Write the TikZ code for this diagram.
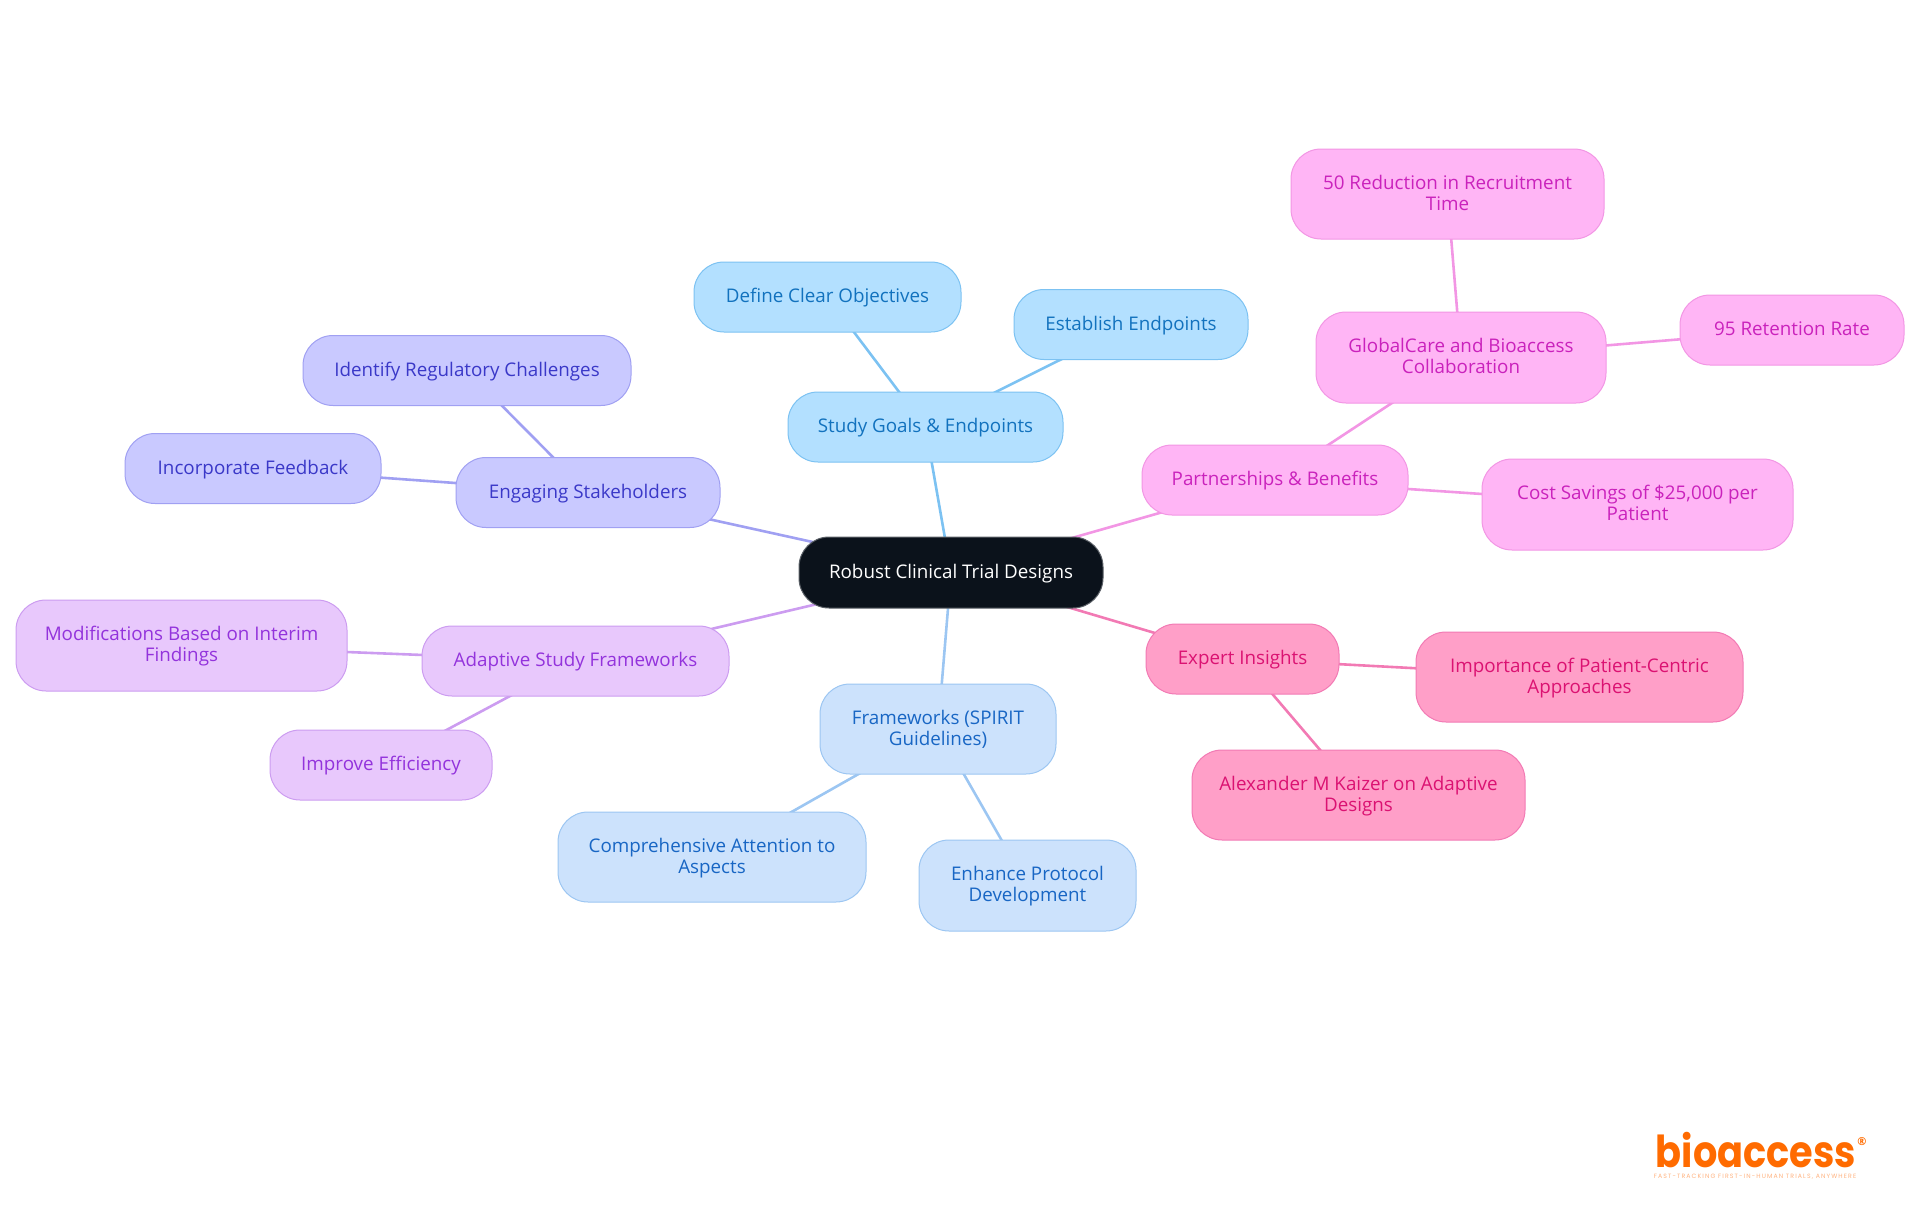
\documentclass[tikz,border=0pt]{standalone}
\usepackage{fontspec}
\setmainfont{Open Sans}
\newfontfamily\logofont{Poppins}
\usetikzlibrary{backgrounds}
\definecolor{rootF}{HTML}{0B121B}\definecolor{rootD}{HTML}{5A5F66}
\definecolor{sgF}{HTML}{B3E0FF}\definecolor{sgD}{HTML}{7CC2F2}\definecolor{sgT}{HTML}{1272BE}
\definecolor{esF}{HTML}{C9C9FF}\definecolor{esD}{HTML}{A0A0F2}\definecolor{esT}{HTML}{3A38C8}
\definecolor{asF}{HTML}{E8C8FC}\definecolor{asD}{HTML}{CC9CF0}\definecolor{asT}{HTML}{9333DC}
\definecolor{fwF}{HTML}{CCE2FC}\definecolor{fwD}{HTML}{9CC6F2}\definecolor{fwT}{HTML}{1866C4}
\definecolor{eiF}{HTML}{FF9FC8}\definecolor{eiD}{HTML}{F27AB4}\definecolor{eiT}{HTML}{DB1272}
\definecolor{pbF}{HTML}{FFB5F5}\definecolor{pbD}{HTML}{F296E4}\definecolor{pbT}{HTML}{CA22BC}
\definecolor{logoO}{HTML}{FF6B00}\definecolor{logoL}{HTML}{FFB27F}
\tikzset{
  x=1pt,y=-1pt,
  mapnode/.style={draw,line width=1pt,rounded corners=30pt,align=center,inner sep=0pt,
     font=\fontsize{18.8}{21}\selectfont},
  oneline/.style={text height=15.2pt,text depth=4pt},
  twoline/.style={text height=36.6pt,text depth=4pt},
  sgN/.style={mapnode,fill=sgF,draw=sgD,text=sgT},
  esN/.style={mapnode,fill=esF,draw=esD,text=esT},
  asN/.style={mapnode,fill=asF,draw=asD,text=asT},
  fwN/.style={mapnode,fill=fwF,draw=fwD,text=fwT},
  eiN/.style={mapnode,fill=eiF,draw=eiD,text=eiT},
  pbN/.style={mapnode,fill=pbF,draw=pbD,text=pbT},
  rootN/.style={mapnode,fill=rootF,draw=rootD,text=white},
  link/.style={line width=2.6pt},
}
\newcommand{\mapbox}[7]{\node[#1,minimum width=#6pt,minimum height=#7pt] (#2) at (#4,#5) {#3};}
\begin{document}
\begin{tikzpicture}
\useasboundingbox (0,0) rectangle (1920,1215);
\mapbox{rootN,oneline}{root}{Robust Clinical Trial Designs}{951}{572.5}{304}{71}
\mapbox{sgN,oneline}{study}{Study Goals \& Endpoints}{925.5}{427}{275}{70}
\mapbox{sgN,oneline}{define}{Define Clear Objectives}{827.5}{297}{267}{70}
\mapbox{sgN,oneline}{establish}{Establish Endpoints}{1131}{324.5}{234}{70}
\mapbox{esN,oneline}{engaging}{Engaging Stakeholders}{588}{492.5}{264}{70}
\mapbox{esN,oneline}{identify}{Identify Regulatory Challenges}{467}{370.5}{328}{70}
\mapbox{esN,oneline}{incorp}{Incorporate Feedback}{253}{468.5}{256}{70}
\mapbox{asN,oneline}{adaptive}{Adaptive Study Frameworks}{575.5}{661}{307}{70}
\mapbox{asN,twoline}{modif}{Modifications Based on Interim\\Findings}{181.5}{645.5}{331}{91}
\mapbox{asN,oneline}{improve}{Improve Efficiency}{381}{765}{222}{70}
\mapbox{fwN,twoline}{frame}{Frameworks (SPIRIT\\Guidelines)}{938}{729}{236}{90}
\mapbox{fwN,twoline}{compre}{Comprehensive Attention to\\Aspects}{712}{857}{308}{90}
\mapbox{fwN,twoline}{enhance}{Enhance Protocol\\Development}{1027.5}{885.5}{217}{91}
\mapbox{eiN,oneline}{expert}{Expert Insights}{1242.5}{659}{193}{70}
\mapbox{eiN,twoline}{import}{Importance of Patient-Centric\\Approaches}{1579.5}{677}{327}{90}
\mapbox{eiN,twoline}{alex}{Alexander M Kaizer on Adaptive\\Designs}{1358.5}{795}{333}{90}
\mapbox{pbN,oneline}{partner}{Partnerships \& Benefits}{1275}{480}{266}{70}
\mapbox{pbN,twoline}{cost}{Cost Savings of \$25,000 per\\Patient}{1637.5}{504.5}{311}{91}
\mapbox{pbN,twoline}{global}{GlobalCare and Bioaccess\\Collaboration}{1461}{357.5}{290}{91}
\mapbox{pbN,twoline}{fifty}{50 Reduction in Recruitment\\Time}{1447.5}{194}{313}{90}
\mapbox{pbN,oneline}{retain}{95 Retention Rate}{1792}{330}{224}{70}
\begin{scope}[on background layer]
\begin{scope}[link]
\draw[sgD] (root.center) -- (study.center);
\draw[sgD] (study.center) -- (define.center);
\draw[sgD] (study.center) -- (establish.center);
\draw[esD] (root.center) -- (engaging.center);
\draw[esD] (engaging.center) -- (identify.center);
\draw[esD] (engaging.center) -- (incorp.center);
\draw[asD] (root.center) -- (adaptive.center);
\draw[asD] (adaptive.center) -- (modif.center);
\draw[asD] (adaptive.center) -- (improve.center);
\draw[fwD] (root.center) -- (frame.center);
\draw[fwD] (frame.center) -- (compre.center);
\draw[fwD] (frame.center) -- (enhance.center);
\draw[eiD] (root.center) -- (expert.center);
\draw[eiD] (expert.center) -- (import.center);
\draw[eiD] (expert.center) -- (alex.center);
\draw[pbD] (root.center) -- (partner.center);
\draw[pbD] (partner.center) -- (cost.center);
\draw[pbD] (partner.center) -- (global.center);
\draw[pbD] (global.center) -- (fifty.center);
\draw[pbD] (global.center) -- (retain.center);
\end{scope}
\end{scope}
\node[inner sep=0pt,text=logoO,font=\logofont\bfseries\fontsize{44}{44}\selectfont] (logo) at (1756,1150) {\addfontfeature{FakeStretch=0.87}bioaccess};
\node[inner sep=0pt,text=logoO,font=\fontsize{11}{11}\selectfont\bfseries] (logoreg) at (1862,1142) {®};
\node[inner sep=0pt,text=logoL,font=\logofont\fontsize{6.2}{7}\selectfont] (logotag) at (1755,1177) {\addfontfeature{LetterSpace=18}FAST-TRACKING FIRST-IN-HUMAN TRIALS, ANYWHERE};
\end{tikzpicture}
\end{document}
